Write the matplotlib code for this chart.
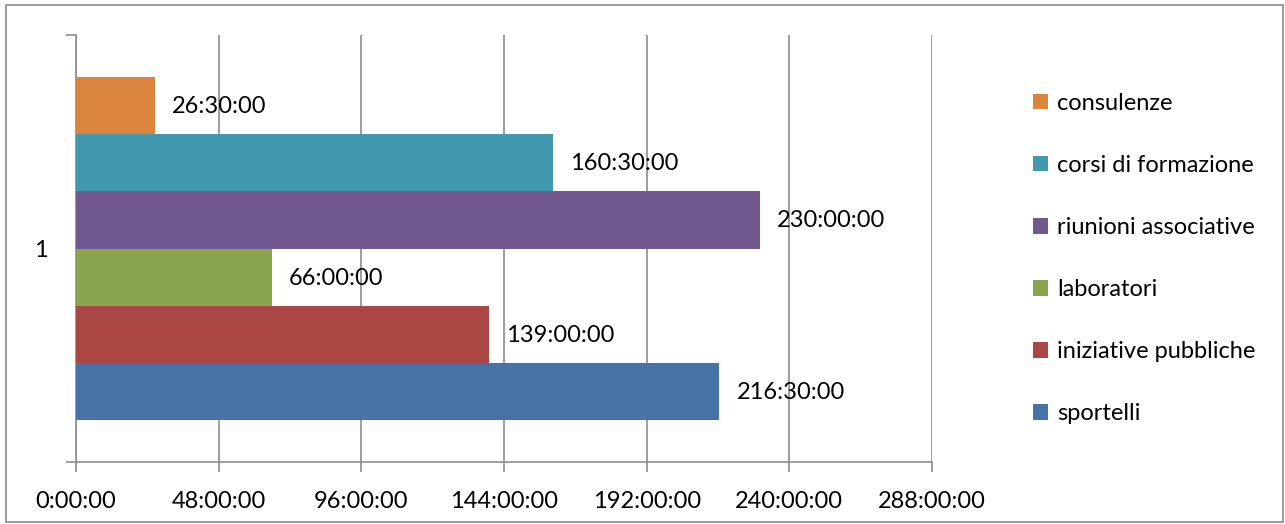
import matplotlib.pyplot as plt
from matplotlib.patches import Rectangle
from matplotlib.ticker import FixedLocator

plt.rcParams['font.family'] = ['Lato', 'DejaVu Sans']

# hours per activity (bottom to top in the chart)
categories = ["sportelli", "iniziative pubbliche", "laboratori",
              "riunioni associative", "corsi di formazione", "consulenze"]
hours = [216.5, 139.0, 66.0, 230.0, 160.5, 26.5]
labels = ["216:30:00", "139:00:00", "66:00:00", "230:00:00", "160:30:00", "26:30:00"]
colors = ["#4572A7", "#AA4643", "#89A54E", "#71588F", "#4198AF", "#DB843D"]
x_ticks = [0, 48, 96, 144, 192, 240, 288]
x_tick_labels = ["0:00:00", "48:00:00", "96:00:00", "144:00:00",
                 "192:00:00", "240:00:00", "288:00:00"]

FS = 17
W, H = 1285, 524
fig = plt.figure(figsize=(W / 100, H / 100), dpi=100)
fig.patches.append(Rectangle((6 / W, 2 / H), 1277 / W, 517 / H, transform=fig.transFigure,
                             fill=False, edgecolor="#8c8c8c", linewidth=1.2))

ax = fig.add_axes([76 / W, (H - 462) / H, (932 - 76) / W, (462 - 35) / H])

n = len(categories)
gap = 1.47
bar_h = 1 / (n + gap)
start = -0.5 + gap * bar_h / 2
for i, (cat, val, lab, col) in enumerate(zip(categories, hours, labels, colors)):
    y = start + (i + 0.5) * bar_h
    ax.barh(y, val, height=bar_h, color=col, label=cat, zorder=3)
    ax.annotate(lab, (val, y), xytext=(17, -1), textcoords="offset pixels",
                va="center", ha="left", fontsize=FS, zorder=4)

ax.set_xlim(0, 288)
ax.set_ylim(-0.5, 0.5)
ax.xaxis.set_major_locator(FixedLocator(x_ticks))
ax.set_xticklabels(x_tick_labels, fontsize=FS)
ax.set_yticks([0])
ax.set_yticklabels(["1"], fontsize=FS)
ax.yaxis.set_minor_locator(FixedLocator([-0.5, 0.5]))
ax.tick_params(axis="y", which="major", length=0, pad=20)
ax.tick_params(axis="y", which="minor", length=7, width=1.2, color="#8c8c8c")
ax.tick_params(axis="x", length=7, width=1.2, color="#8c8c8c", pad=14)

ax.grid(axis="x", color="#8c8c8c", linewidth=1.2, zorder=0)
for side in ["top", "right"]:
    ax.spines[side].set_visible(False)
for side in ["left", "bottom"]:
    ax.spines[side].set_color("#8c8c8c")
    ax.spines[side].set_linewidth(1.2)

handles, leg_labels = ax.get_legend_handles_labels()
fig.legend(handles[::-1], leg_labels[::-1], loc="upper left",
           bbox_to_anchor=(1033 / W, (H - 93) / H), frameon=False, fontsize=FS,
           borderpad=0, borderaxespad=0,
           handlelength=0.62, handleheight=0.62, handletextpad=0.4, labelspacing=1.74)

fig.savefig("out.png", dpi=100)
